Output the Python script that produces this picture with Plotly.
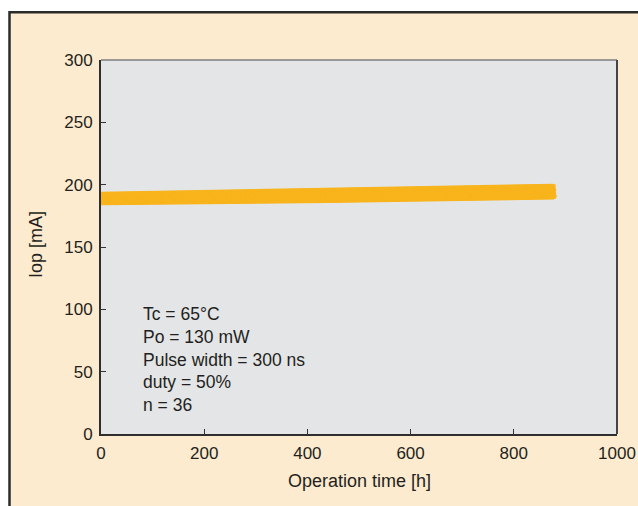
import plotly.graph_objects as go

# Operation time [h] sample points per device: start, middle, end
mid_hour = 440
end_hours = [878, 881, 875, 880, 872, 879, 883, 876, 880, 874, 881, 878, 870, 882, 877, 879, 875, 880,
             873, 881, 878, 876, 882, 879, 874, 880, 877, 881, 872, 879, 876, 880, 878, 874, 881, 877]

# Iop [mA] for 36 devices
iop_start = [184.5, 184.9, 185.1, 185.3, 185.7, 185.9, 186.2, 186.4, 186.5, 186.9, 187.1, 187.4, 187.6, 187.8,
             188.1, 188.3, 188.5, 188.8, 189.0, 189.1, 189.4, 189.7, 189.9, 190.2, 190.4, 190.5, 190.8, 191.1,
             191.3, 191.7, 191.8, 192.1, 192.4, 192.6, 193.0, 193.3]
iop_mid = [186.3, 186.7, 186.9, 187.3, 187.5, 187.7, 188.1, 188.4, 188.8, 189.0, 189.2, 189.6, 189.9, 190.1,
           190.5, 190.9, 191.1, 191.3, 191.7, 192.0, 192.2, 192.6, 192.9, 193.1, 193.5, 193.8, 194.0, 194.4,
           194.7, 195.0, 195.2, 195.6, 195.9, 196.1, 196.4, 196.7]
iop_end = [189.1, 189.5, 189.7, 190.0, 190.4, 190.6, 190.8, 191.2, 191.5, 191.9, 192.1, 192.4, 192.6, 193.0,
           193.3, 193.7, 193.9, 194.1, 194.5, 194.8, 195.0, 195.4, 195.7, 196.1, 196.3, 196.5, 196.9, 197.3,
           197.5, 197.8, 198.0, 198.4, 198.7, 199.1, 199.4, 199.7]

x_ticks = [0, 200, 400, 600, 800, 1000]
y_ticks = [0, 50, 100, 150, 200, 250, 300]

notes = ["Tc = 65°C", "Po = 130 mW", "Pulse width = 300 ns", "duty = 50%", "n = 36"]

FONT = "Liberation Sans, Arial, sans-serif"
TXT = "#231f20"
W, H = 638, 506
L, R, T, B = 101, 21, 60, 72
PW, PH = W - L - R, H - T - B


def px(xp):
    return (xp - L) / PW


def py(yp):
    return (H - B - yp) / PH


fig = go.Figure()
for i in range(len(iop_start)):
    fig.add_trace(go.Scatter(
        x=[0, mid_hour, end_hours[i]],
        y=[iop_start[i], iop_mid[i], iop_end[i]],
        mode="lines",
        line=dict(color="#f8b41c", width=2.5),
        showlegend=False,
        hoverinfo="skip",
    ))

shapes = [
    # cream frame with dark top/left border
    dict(type="rect", xref="paper", yref="paper", x0=px(9.5), x1=px(660), y0=py(530), y1=py(12.3),
         fillcolor="#fdebcf", line=dict(color="#2b2b2b", width=2.5), layer="below"),
    # grey plot area
    dict(type="rect", xref="paper", yref="paper", x0=0, x1=1, y0=0, y1=1,
         fillcolor="#e4e5e7", line=dict(width=0), layer="below"),
    # top border of plot area
    dict(type="line", xref="paper", yref="paper", x0=0, x1=1, y0=1, y1=1,
         line=dict(color="#7d7d7d", width=1.5), layer="above"),
    # right border of plot area
    dict(type="line", xref="paper", yref="paper", x0=1, x1=1, y0=0, y1=1,
         line=dict(color="#444444", width=2), layer="above"),
]

annotations = [
    dict(text="<br>".join(notes), xref="paper", yref="paper", x=px(141), y=py(359.5),
         xanchor="left", yanchor="middle", align="left", showarrow=False,
         font=dict(family=FONT, size=17.5, color=TXT)),
    dict(text="Operation time [h]", xref="paper", yref="paper", x=0.5, y=py(481),
         xanchor="center", yanchor="middle", showarrow=False,
         font=dict(family=FONT, size=18, color=TXT)),
    dict(text="Iop [mA]", xref="paper", yref="paper", x=px(36), y=py(245), textangle=-90,
         xanchor="center", yanchor="middle", showarrow=False,
         font=dict(family=FONT, size=18, color=TXT)),
]

fig.update_layout(
    width=W, height=H,
    autosize=False,
    margin=dict(l=L, r=R, t=T, b=B, autoexpand=False),
    paper_bgcolor="white",
    plot_bgcolor="rgba(0,0,0,0)",
    shapes=shapes,
    annotations=annotations,
    font=dict(family=FONT, size=17, color=TXT),
    xaxis=dict(range=[0, 1000], tickvals=x_ticks, ticktext=[str(v) for v in x_ticks],
               showgrid=False, zeroline=False, showline=True, linecolor="#2e2e2e", linewidth=2,
               ticks="inside", ticklen=5, tickcolor="#333333", tickwidth=1, ticklabelstandoff=3,
               automargin=False, tickfont=dict(family=FONT, size=17, color=TXT)),
    yaxis=dict(range=[0, 300], tickvals=y_ticks, ticktext=[str(v) for v in y_ticks],
               showgrid=False, zeroline=False, showline=True, linecolor="#2e2e2e", linewidth=2,
               ticks="inside", ticklen=5, tickcolor="#333333", tickwidth=1, ticklabelstandoff=3,
               automargin=False, tickfont=dict(family=FONT, size=17, color=TXT)),
)

fig.write_html("out.html", config={"displayModeBar": False, "responsive": False},
               post_script="document.body.style.margin='0px';")
